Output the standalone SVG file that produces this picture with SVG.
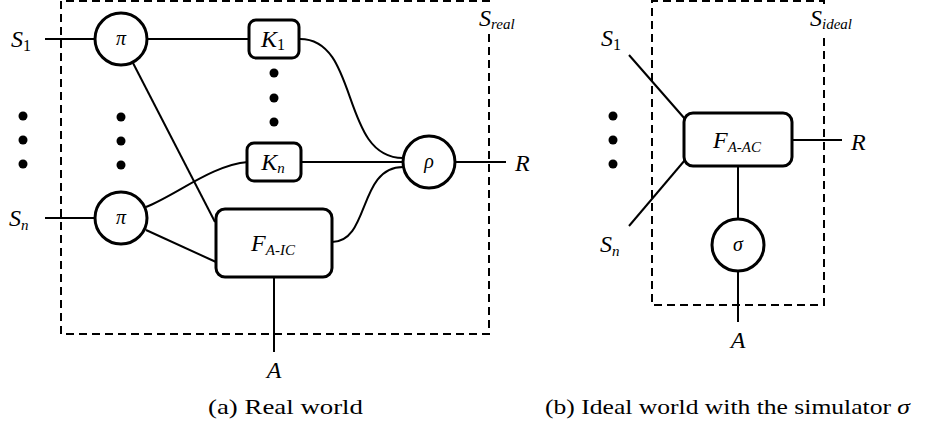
<svg xmlns="http://www.w3.org/2000/svg" width="927" height="431" viewBox="0 0 927 431">
<style>
.m{font-family:"Liberation Serif","DejaVu Serif",serif;font-style:italic;font-size:24px;fill:#000}
.g{font-family:"Liberation Serif","DejaVu Serif",serif;font-style:italic;font-size:20px;fill:#000}
.sub{font-size:15px}
.subn{font-size:16px;font-style:normal}
.cap{font-family:"Liberation Serif","DejaVu Serif",serif;font-size:22px;fill:#000}
.node{fill:#fff;stroke:#000;stroke-width:3}
.ln{fill:none;stroke:#000;stroke-width:2}
.dash{fill:none;stroke:#000;stroke-width:2;stroke-dasharray:8 5}
.dot{fill:#000}
</style>

<!-- boundaries -->
<g id="boundary-real">
<path class="dash" d="M489,34 V334 H61 V1 H489 V4"/>
<text class="m" x="479" y="26">S<tspan class="sub" dy="3">real</tspan></text>
</g>
<g id="boundary-ideal">
<path class="dash" d="M824,38 V305 H652 V1 H824 V4"/>
<text class="m" x="810" y="26">S<tspan class="sub" dy="3">ideal</tspan></text>
</g>

<!-- connectors -->
<g id="connectors">
<line class="ln" x1="45" y1="39" x2="95" y2="39"/>
<line class="ln" x1="45" y1="218" x2="95" y2="218"/>
<line class="ln" x1="147" y1="39" x2="249" y2="39"/>
<line class="ln" x1="133" y1="63" x2="215" y2="222"/>
<path class="ln" d="M146,207 C178,194 212,165 248,162"/>
<line class="ln" x1="146" y1="230" x2="216" y2="262"/>
<path class="ln" d="M300,39 C360,39 340,158 403,158"/>
<line class="ln" x1="301" y1="162" x2="403" y2="162"/>
<path class="ln" d="M332,242 C370,242 358,167 403,167"/>
<line class="ln" x1="455" y1="162" x2="506" y2="162"/>
<line class="ln" x1="274" y1="277" x2="274" y2="352"/>
<line class="ln" x1="629" y1="55" x2="685" y2="119"/>
<line class="ln" x1="685" y1="160" x2="629" y2="226"/>
<line class="ln" x1="792" y1="140" x2="842" y2="140"/>
<line class="ln" x1="738" y1="166" x2="738" y2="218"/>
<line class="ln" x1="738" y1="272" x2="738" y2="322"/>
</g>

<!-- real world nodes -->
<g id="label-S1"><text class="m" x="11" y="47">S<tspan class="subn" dy="4">1</tspan></text></g>
<g id="label-Sn"><text class="m" x="9" y="226">S<tspan class="sub" dy="4">n</tspan></text></g>
<g id="dots-left">
<circle class="dot" cx="23" cy="116" r="4.5"/><circle class="dot" cx="23" cy="140" r="4.5"/><circle class="dot" cx="23" cy="164" r="4.5"/>
</g>
<g id="dots-pi">
<circle class="dot" cx="121" cy="117" r="4.5"/><circle class="dot" cx="121" cy="141" r="4.5"/><circle class="dot" cx="121" cy="165" r="4.5"/>
</g>
<g id="dots-K">
<circle class="dot" cx="274" cy="73" r="4.5"/><circle class="dot" cx="274" cy="98" r="4.5"/><circle class="dot" cx="274" cy="122" r="4.5"/>
</g>
<g id="pi1">
<circle class="node" cx="121" cy="39" r="26"/>
<text class="g" x="121" y="45" text-anchor="middle">π</text>
</g>
<g id="pi2">
<circle class="node" cx="121" cy="218" r="26"/>
<text class="g" x="121" y="224" text-anchor="middle">π</text>
</g>
<g id="K1">
<rect class="node" x="249" y="20" width="50" height="38" rx="7"/>
<text class="m" x="273" y="47" text-anchor="middle">K<tspan class="subn" dy="3">1</tspan></text>
</g>
<g id="Kn">
<rect class="node" x="247" y="143" width="54" height="38" rx="7"/>
<text class="m" x="273" y="170" text-anchor="middle">K<tspan class="sub" dy="3">n</tspan></text>
</g>
<g id="F-AIC">
<rect class="node" x="216" y="209" width="116" height="68" rx="9"/>
<text class="m" x="273" y="251" text-anchor="middle">F<tspan class="sub" dy="4">A-IC</tspan></text>
</g>
<g id="rho">
<circle class="node" cx="429" cy="162" r="26"/>
<text class="g" x="429" y="168" text-anchor="middle">ρ</text>
</g>
<g id="label-R1"><text class="m" x="515" y="171">R</text></g>
<g id="label-A1"><text class="m" x="274" y="378" text-anchor="middle">A</text></g>

<!-- ideal world nodes -->
<g id="label-S1b"><text class="m" x="601" y="46">S<tspan class="subn" dy="4">1</tspan></text></g>
<g id="label-Snb"><text class="m" x="600" y="252">S<tspan class="sub" dy="4">n</tspan></text></g>
<g id="dots-right">
<circle class="dot" cx="613" cy="116" r="4.5"/><circle class="dot" cx="613" cy="140" r="4.5"/><circle class="dot" cx="613" cy="164" r="4.5"/>
</g>
<g id="F-AAC">
<rect class="node" x="684" y="113" width="108" height="53" rx="9"/>
<text class="m" x="737" y="148" text-anchor="middle">F<tspan class="sub" dy="4">A-AC</tspan></text>
</g>
<g id="sigma">
<circle class="node" cx="738" cy="245" r="26"/>
<text class="g" x="738" y="251" text-anchor="middle">σ</text>
</g>
<g id="label-R2"><text class="m" x="851" y="150">R</text></g>
<g id="label-A2"><text class="m" x="738" y="348" text-anchor="middle">A</text></g>

<!-- captions -->
<text class="cap" x="208" y="414" textLength="155" lengthAdjust="spacingAndGlyphs">(a) Real world</text>
<text class="cap" x="545" y="414" textLength="365" lengthAdjust="spacingAndGlyphs">(b) Ideal world with the simulator <tspan font-style="italic">σ</tspan></text>
</svg>
